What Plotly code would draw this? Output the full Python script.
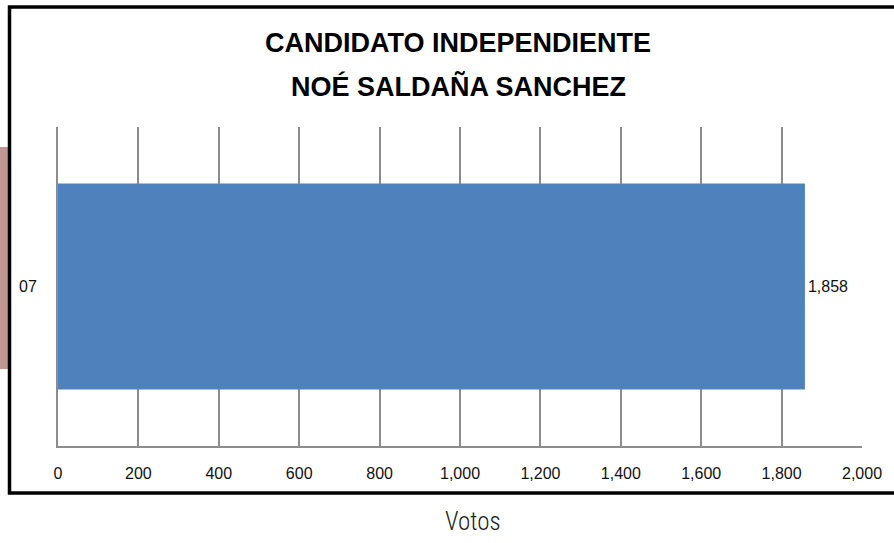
import plotly.graph_objects as go

categories = ["07"]
votes = [1858]
value_labels = ["1,858"]
tick_vals = [0, 200, 400, 600, 800, 1000, 1200, 1400, 1600, 1800, 2000]
tick_text = ["0", "200", "400", "600", "800", "1,000", "1,200", "1,400", "1,600", "1,800", "2,000"]
title_lines = ["CANDIDATO INDEPENDIENTE", "NOÉ SALDAÑA SANCHEZ"]
x_title = "Votos"

W, H = 894, 543
L, R, T, B = 58, 32, 127, 97
PW, PH = W - L - R, H - T - B

def px(x):
    return (x - L) / PW

def py(y):
    return (H - B - y) / PH

FONT = "Liberation Sans, Arial, sans-serif"

fig = go.Figure()
fig.add_trace(go.Bar(
    x=votes, y=categories, orientation="h",
    marker=dict(color="#4F81BD", line=dict(width=0)),
    width=0.646,
    text=value_labels, textposition="outside",
    textfont=dict(family=FONT, size=16, color="#111"),
    cliponaxis=False,
))

fig.update_layout(
    width=W, height=H,
    margin=dict(l=L, r=R, t=T, b=B),
    paper_bgcolor="white", plot_bgcolor="white",
    showlegend=False,
    xaxis=dict(
        range=[0, 2000], tickvals=tick_vals, ticktext=tick_text,
        showgrid=True, gridcolor="#8C8C8C", gridwidth=2,
        zeroline=False, showline=True, linecolor="#8C8C8C", linewidth=2,
        ticks="", ticklabelstandoff=12,
        tickfont=dict(family=FONT, size=16, color="#111"),
        fixedrange=True,
    ),
    yaxis=dict(
        range=[-0.5, 0.5], showgrid=False, zeroline=False,
        showline=True, linecolor="#8C8C8C", linewidth=2,
        ticks="", ticklabelstandoff=16,
        tickfont=dict(family=FONT, size=16, color="#111"),
        fixedrange=True,
    ),
    shapes=[
        dict(type="rect", xref="paper", yref="paper",
             x0=px(0), x1=px(8), y0=py(369), y1=py(147),
             fillcolor="#C09690", line=dict(width=0), layer="below"),
        dict(type="rect", xref="paper", yref="paper",
             x0=px(9.5), x1=px(905), y0=py(493), y1=py(7),
             fillcolor="rgba(0,0,0,0)", line=dict(color="black", width=3.5)),
    ],
    annotations=[
        dict(text="<b>" + title_lines[0] + "</b>", xref="paper", yref="paper",
             x=px(458), y=py(43), xanchor="center", yanchor="middle", showarrow=False,
             font=dict(family=FONT, size=27, color="black")),
        dict(text="<b>" + title_lines[1] + "</b>", xref="paper", yref="paper",
             x=px(458), y=py(86), xanchor="center", yanchor="middle", showarrow=False,
             font=dict(family=FONT, size=27, color="black")),
        dict(text=x_title, xref="paper", yref="paper",
             x=px(473), y=py(521), xanchor="center", yanchor="middle", showarrow=False,
             font=dict(family="Roboto Condensed, Roboto, sans-serif", size=25, color="#222", weight=300)),
    ],
)

fig.write_html("out.html", config={"displayModeBar": False},
               post_script="document.body.style.margin='0';document.body.style.overflow='hidden';")
